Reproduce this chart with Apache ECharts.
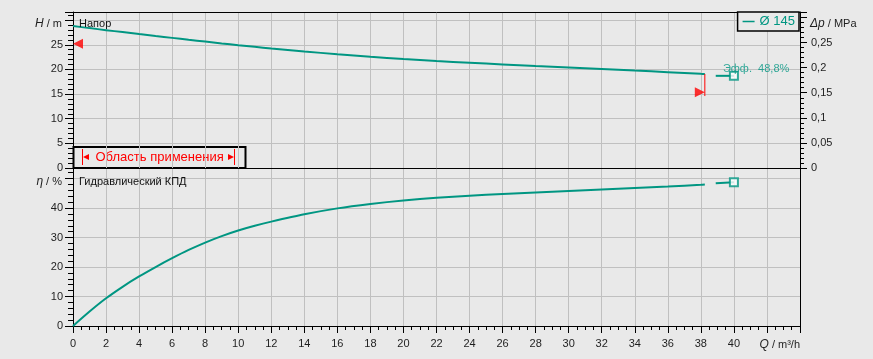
<!DOCTYPE html>
<html>
<head>
<meta charset="utf-8">
<script src="https://cdn.jsdelivr.net/npm/echarts@6/dist/echarts.min.js"></script>
<style>
html,body{margin:0;padding:0;background:#e9e9e9;}
#c{width:873px;height:359px;}
</style>
</head>
<body>
<div id="c"></div>
<script>
// ---- data ----
const flow    = [0,1,2,3,4,5,6,7,8,9,10,11,12,14,16,18,20,22,24,26,28,30,32,34,36,38,38.24];
const headM   = [28.8,28.38,27.97,27.57,27.17,26.78,26.4,26.02,25.65,25.28,24.92,24.58,24.25,23.64,23.08,22.56,22.1,21.7,21.35,21.02,20.7,20.4,20.1,19.77,19.45,19.1,19.07];
const effPct  = [0,4.9,9.4,13.3,16.8,20.0,23.0,25.8,28.3,30.5,32.4,34.0,35.4,37.9,39.9,41.4,42.6,43.5,44.2,44.8,45.3,45.8,46.3,46.8,47.3,47.9,48.0];
const tailFlow = [38.9, 40];
const tailHead = [18.7, 18.7];
const tailEff  = [48.4, 48.8];
const dutyFlow = [40];
const dutyHead = [18.7];
const dutyEff  = [48.8];
const rangeMinFlow = 0,  rangeMinHead = 25.2;   // left limit marker
const rangeMaxFlow = 38.24, rangeMaxHead = 15.35; // right limit marker
const rangeMaxLine = [19.07, 14.6];
const pumpName = 'Ø 145';
const M_PER_MPA = 101.8;

// ---- layout / style ----
const FONT = '"Liberation Sans", Arial, sans-serif';
const TEAL = '#009682';
const RED = '#ff0000';
const TXT = '#1e1e1e';
const GRIDC = '#c0c0c0';
const HMAX = 31.65, EMAX = 53.6, QMAX = 44;

const zip = (a, b) => a.map((v, i) => [v, b[i]]);
const comma = v => String(+v.toFixed(3)).replace('.', ',');

const baseY = {
  type: 'value', axisLine: {show: true, onZero: false, lineStyle: {color: '#000', width: 1}},
  splitLine: {show: false}, axisTick: {show: false}, axisLabel: {show: false}
};
function minorAxis(grid, pos, max, interval, len) {
  return Object.assign({}, baseY, {gridIndex: grid, position: pos, min: 0, max: max, interval: interval,
    axisLine: {show: false, onZero: false},
    axisTick: {show: true, length: len, lineStyle: {color: '#000', width: 1}}});
}

const chart = echarts.init(document.getElementById('c'), null, {renderer: 'canvas'});
const option = {
  backgroundColor: '#e9e9e9',
  animation: false,
  textStyle: {fontFamily: FONT},
  grid: [
    {left: 73, right: 73, top: 12, height: 156, show: false},
    {left: 73, right: 73, top: 168, height: 158, show: false}
  ],
  legend: {
    data: [pumpName], right: 74, top: 12, padding: [3, 4, 3, 5], selectedMode: false,
    borderColor: '#000', borderWidth: 1.5, backgroundColor: '#e9e9e9',
    icon: 'rect', itemWidth: 12, itemHeight: 1.5, itemGap: 0,
    textStyle: {color: TEAL, fontSize: 13, fontFamily: FONT}
  },
  xAxis: [
    {type: 'value', gridIndex: 0, min: 0, max: QMAX, interval: 2, position: 'bottom',
     axisLine: {show: true, onZero: false, lineStyle: {color: '#000'}}, axisTick: {show: false}, axisLabel: {show: false},
     splitLine: {show: true, showMinLine: false, showMaxLine: false, lineStyle: {color: GRIDC, width: 1}}},
    {type: 'value', gridIndex: 1, min: 0, max: QMAX, interval: 2, position: 'bottom',
     axisLine: {show: true, onZero: false, lineStyle: {color: '#000'}},
     axisTick: {show: true, length: 7, lineStyle: {color: '#000'}},
     minorTick: {show: true, splitNumber: 4, length: 4, lineStyle: {color: '#000'}},
     axisLabel: {show: true, margin: 12, color: TXT, fontSize: 11, fontFamily: FONT,
       formatter: v => (v > 40 ? '' : String(v))},
     splitLine: {show: true, showMinLine: false, showMaxLine: false, lineStyle: {color: GRIDC, width: 1}}},
    // top frame line of the upper panel
    {type: 'value', gridIndex: 0, min: 0, max: QMAX, position: 'top',
     axisLine: {show: true, onZero: false, lineStyle: {color: '#000'}}, axisTick: {show: false}, axisLabel: {show: false}, splitLine: {show: false}}
  ],
  yAxis: [
    // 0: H / m
    Object.assign({}, baseY, {gridIndex: 0, position: 'left', min: 0, max: HMAX, interval: 5,
      axisTick: {show: true, length: 8, lineStyle: {color: '#000'}},
      axisLabel: {show: true, margin: 10, color: TXT, fontSize: 11, fontFamily: FONT,
        formatter: v => (v % 5 === 0 && v < 30 ? String(v) : '')},
      splitLine: {show: true, showMinLine: false, showMaxLine: false, lineStyle: {color: GRIDC, width: 1}}}),
    // 1: H minor ticks
    minorAxis(0, 'left', HMAX, 1, 5),
    // 2: Δp / MPa
    Object.assign({}, baseY, {gridIndex: 0, position: 'right', min: 0, max: HMAX / M_PER_MPA, interval: 0.05,
      axisTick: {show: true, length: 7, lineStyle: {color: '#000'}},
      axisLabel: {show: true, margin: 11, color: TXT, fontSize: 11, fontFamily: FONT,
        formatter: v => {const r = Math.round(v * 100) / 100; return (Math.abs(v - r) < 1e-9 && (Math.round(r * 100) % 5 === 0) && r < 0.3) ? comma(r) : '';}}}),
    // 3: MPa minor ticks
    minorAxis(0, 'right', HMAX / M_PER_MPA, 0.01, 4),
    // 4: η / %
    Object.assign({}, baseY, {gridIndex: 1, position: 'left', min: 0, max: EMAX, interval: 10,
      axisTick: {show: true, length: 8, lineStyle: {color: '#000'}},
      axisLabel: {show: true, margin: 10, color: TXT, fontSize: 11, fontFamily: FONT,
        formatter: v => (v % 10 === 0 && v < 50 ? String(v) : '')},
      splitLine: {show: true, showMinLine: false, showMaxLine: false, lineStyle: {color: GRIDC, width: 1}}}),
    // 5: η minor ticks
    minorAxis(1, 'left', EMAX, 2, 5),
    // 6: right frame line of the lower panel
    Object.assign({}, baseY, {gridIndex: 1, position: 'right', min: 0, max: 1})
  ],
  series: [
    {name: pumpName, type: 'line', xAxisIndex: 0, yAxisIndex: 0, data: zip(flow, headM),
     smooth: 0.2, symbol: 'none', lineStyle: {color: TEAL, width: 2}, itemStyle: {color: TEAL}, z: 5},
    {type: 'line', xAxisIndex: 0, yAxisIndex: 0, data: zip(tailFlow, tailHead),
     symbol: 'none', lineStyle: {color: TEAL, width: 2}, z: 5},
    {type: 'scatter', xAxisIndex: 0, yAxisIndex: 0, data: zip(dutyFlow, dutyHead),
     symbol: 'rect', symbolSize: 8, itemStyle: {color: '#fff', borderColor: TEAL, borderWidth: 2}, z: 6,
     label: {show: true, position: [-6, -2], align: 'left', verticalAlign: 'middle', color: TEAL, fontSize: 11, fontFamily: FONT,
       formatter: () => 'Эфф.  ' + comma(dutyEff[0]) + '%'}},
    {name: pumpName, type: 'line', xAxisIndex: 1, yAxisIndex: 4, data: zip(flow, effPct),
     smooth: 0.2, symbol: 'none', lineStyle: {color: TEAL, width: 2}, itemStyle: {color: TEAL}, z: 5},
    {type: 'line', xAxisIndex: 1, yAxisIndex: 4, data: zip(tailFlow, tailEff),
     symbol: 'none', lineStyle: {color: TEAL, width: 2}, z: 5},
    {type: 'scatter', xAxisIndex: 1, yAxisIndex: 4, data: zip(dutyFlow, dutyEff),
     symbol: 'rect', symbolSize: 8, itemStyle: {color: '#fff', borderColor: TEAL, borderWidth: 2}, z: 6},
    // operating range limits
    {type: 'scatter', xAxisIndex: 0, yAxisIndex: 0, data: [[rangeMinFlow, rangeMinHead]], clip: false,
     symbol: 'path://M0,5L10,0L10,10Z', symbolSize: [10, 10], symbolOffset: [5, 0], itemStyle: {color: RED}, z: 7},
    {type: 'scatter', xAxisIndex: 0, yAxisIndex: 0, data: [[rangeMaxFlow, rangeMaxHead]], clip: false,
     symbol: 'path://M10,5L0,0L0,10Z', symbolSize: [10, 10], symbolOffset: [-5, 0], itemStyle: {color: RED}, z: 7},
    {type: 'line', xAxisIndex: 0, yAxisIndex: 0, data: [[rangeMaxFlow, rangeMaxLine[0]], [rangeMaxFlow, rangeMaxLine[1]]],
     symbol: 'none', lineStyle: {color: RED, width: 1}, z: 7}
  ],
  graphic: [
    {type: 'text', x: 0, y: 0, style: {text: '{i|H} / m', x: 62, y: 24, align: 'right', verticalAlign: 'middle', textAlign: 'right', textVerticalAlign: 'middle',
      fill: TXT, font: '11px ' + FONT, rich: {i: {fontStyle: 'italic', fontSize: 12, fontFamily: FONT, fill: TXT}}}},
    {type: 'text', x: 0, y: 0, style: {text: '{i|η} / %', x: 62, y: 182, align: 'right', verticalAlign: 'middle', textAlign: 'right', textVerticalAlign: 'middle',
      fill: TXT, font: '11px ' + FONT, rich: {i: {fontStyle: 'italic', fontSize: 12, fontFamily: FONT, fill: TXT}}}},
    {type: 'text', x: 0, y: 0, style: {text: '{i|Δp} / MPa', x: 810, y: 24, align: 'left', verticalAlign: 'middle', textAlign: 'left', textVerticalAlign: 'middle',
      fill: TXT, font: '11px ' + FONT, rich: {i: {fontStyle: 'italic', fontSize: 12, fontFamily: FONT, fill: TXT}}}},
    {type: 'text', x: 0, y: 0, style: {text: '{i|Q} / m³/h', x: 800, y: 345, align: 'right', verticalAlign: 'middle', textAlign: 'right', textVerticalAlign: 'middle',
      fill: TXT, font: '11px ' + FONT, rich: {i: {fontStyle: 'italic', fontSize: 12, fontFamily: FONT, fill: TXT}}}},
    {type: 'text', x: 0, y: 0, z: 10, style: {text: 'Напор', x: 79, y: 24, align: 'left', verticalAlign: 'middle', textAlign: 'left', textVerticalAlign: 'middle',
      fill: '#111', font: '11px ' + FONT}},
    {type: 'text', x: 0, y: 0, z: 10, style: {text: 'Гидравлический КПД', x: 79, y: 182, align: 'left', verticalAlign: 'middle', textAlign: 'left', textVerticalAlign: 'middle',
      fill: '#111', font: '11px ' + FONT}},
    // "Область применения" box
    {type: 'group', z: 20, children: [
      {type: 'rect', shape: {x: 73.5, y: 147, width: 172, height: 21}, style: {fill: '#e9e9e9', stroke: '#000', lineWidth: 2}},
      {type: 'line', shape: {x1: 82.5, y1: 149, x2: 82.5, y2: 165}, style: {stroke: RED, lineWidth: 1}},
      {type: 'polygon', shape: {points: [[83, 157], [89, 154], [89, 160]]}, style: {fill: RED}},
      {type: 'text', style: {text: 'Область применения', x: 95.5, y: 157.5, align: 'left', verticalAlign: 'middle', textAlign: 'left', textVerticalAlign: 'middle',
        fill: RED, font: '13px ' + FONT}},
      {type: 'polygon', shape: {points: [[234, 157], [228, 154], [228, 160]]}, style: {fill: RED}},
      {type: 'line', shape: {x1: 234.5, y1: 149, x2: 234.5, y2: 165}, style: {stroke: RED, lineWidth: 1}}
    ]}
  ]
};
chart.setOption(option);
</script>
</body>
</html>
